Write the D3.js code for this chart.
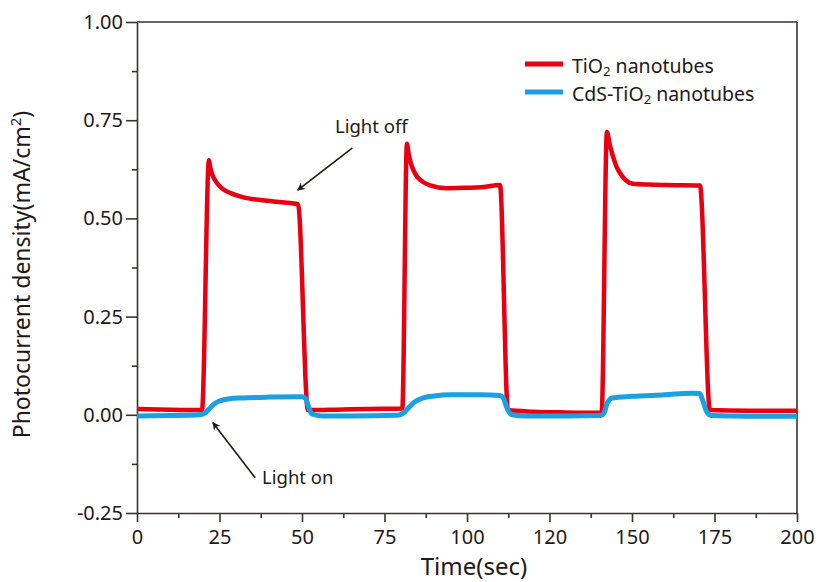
<!doctype html>
<html lang="en">
<head>
	<meta charset="UTF-8">
	<title>Photocurrent</title>
	<script src="https://d3js.org/d3.v7.min.js"></script>
	<style>
		body {
			margin: 0;
			padding: 0;
			background: #fff;
			font-family: "Noto Sans", "Open Sans", sans-serif;
		}
		.axis path,
		.axis line {
			stroke: #3a3330;
			stroke-width: 1.6px;
		}
		.axis text {
			font-family: "Noto Sans", sans-serif;
			font-size: 20px;
			fill: #231815;
		}
	</style>
</head>
<body>
	<div id="chart"></div>
	<script>
		// Data
		const xTicks = [0, 25, 50, 75, 100, 125, 150, 175, 200];
		const xTickLabels = ['0', '25', '50', '75', '100', '120', '150', '175', '200'];
		const yTicks = [-0.25, 0, 0.25, 0.5, 0.75, 1.0];
		const yTickLabels = ['-0.25', '0.00', '0.25', '0.50', '0.75', '1.00'];

		const seriesNames = ['TiO2 nanotubes', 'CdS-TiO2 nanotubes'];

		const tio2Time = [0, 10, 19.7, 21.8, 22.2, 22.8, 23.6, 24.5, 26, 28.2, 32, 38, 44, 48.8, 51.8, 60, 70, 80.4,
			81.8, 82.3, 83, 83.8, 85, 86.8, 88.8, 93.8, 100, 104, 110, 112.4, 120, 130, 140.8,
			142.4, 143.2, 144.3, 145.3, 146.4, 148, 150.3, 155, 160, 170.6, 173.6, 185, 200];
		const tio2Value = [0.015, 0.013, 0.012, 0.648, 0.63, 0.612, 0.598, 0.587, 0.575, 0.565, 0.554, 0.546, 0.541, 0.536, 0.012, 0.013, 0.015, 0.016,
			0.69, 0.665, 0.64, 0.622, 0.605, 0.592, 0.584, 0.577, 0.578, 0.579, 0.585, 0.012, 0.008, 0.006, 0.005,
			0.72, 0.69, 0.656, 0.632, 0.615, 0.598, 0.588, 0.586, 0.585, 0.584, 0.012, 0.010, 0.010];

		const cdsTime = [0, 10, 19, 20.5, 22, 23.5, 25, 28, 32, 40, 50, 51, 52, 53, 56, 65, 79,
			80.5, 82, 84, 86.7, 90, 95, 104, 110, 111, 112, 113.5, 118, 130, 140.5,
			141.5, 142.5, 144, 150, 160, 168, 170.5, 171.5, 172.5, 174, 185, 200];
		const cdsValue = [-0.003, -0.002, 0.0, 0.004, 0.016, 0.028, 0.035, 0.041, 0.043, 0.045, 0.046, 0.042, 0.02, 0.002, -0.003, -0.003, -0.001,
			0.003, 0.015, 0.032, 0.043, 0.048, 0.051, 0.051, 0.049, 0.043, 0.02, 0.0, -0.003, -0.003, -0.002,
			0.004, 0.03, 0.043, 0.047, 0.051, 0.055, 0.054, 0.035, 0.01, -0.002, -0.004, -0.004];

		const colors = ['#e60012', '#1ba1e2'];

		// Canvas
		const width = 821;
		const height = 582;
		const margin = { top: 22, right: 24, bottom: 69, left: 137 };
		const plotW = width - margin.left - margin.right;
		const plotH = height - margin.top - margin.bottom;

		const svg = d3.select('#chart')
			.append('svg')
			.attr('width', width)
			.attr('height', height);

		const g = svg.append('g')
			.attr('transform', 'translate(' + margin.left + ',' + margin.top + ')');

		// Scales
		const x = d3.scaleLinear().domain([0, 200]).range([0, plotW]);
		const y = d3.scaleLinear().domain([-0.25, 1.0]).range([plotH, 0]);

		// Minor ticks
		const xMinor = d3.range(12.5, 200, 25);
		const yMinor = d3.range(-0.125, 1.0, 0.25);

		g.append('g')
			.attr('class', 'axis')
			.attr('transform', 'translate(0,' + plotH + ')')
			.call(d3.axisBottom(x).tickValues(xMinor).tickSize(5).tickFormat(''))
			.select('.domain').remove();

		g.append('g')
			.attr('class', 'axis')
			.call(d3.axisLeft(y).tickValues(yMinor).tickSize(5).tickFormat(''))
			.select('.domain').remove();

		// Major axes
		g.append('g')
			.attr('class', 'axis')
			.attr('transform', 'translate(0,' + plotH + ')')
			.call(d3.axisBottom(x).tickValues(xTicks).tickSizeInner(9).tickSizeOuter(0).tickPadding(8)
				.tickFormat((d, i) => xTickLabels[i]));

		g.append('g')
			.attr('class', 'axis')
			.call(d3.axisLeft(y).tickValues(yTicks).tickSizeInner(11).tickSizeOuter(0).tickPadding(3)
				.tickFormat((d, i) => yTickLabels[i]));

		// Top and right frame
		g.append('line')
			.attr('x1', 0).attr('x2', plotW).attr('y1', 0).attr('y2', 0)
			.attr('stroke', '#3a3330').attr('stroke-width', 1.6);
		g.append('line')
			.attr('x1', plotW).attr('x2', plotW).attr('y1', 0).attr('y2', plotH)
			.attr('stroke', '#3a3330').attr('stroke-width', 1.6);

		// Lines
		const line = d3.line()
			.x((d) => x(d[0]))
			.y((d) => y(d[1]))
			.curve(d3.curveMonotoneX);

		const tio2Data = tio2Time.map((t, i) => [t, tio2Value[i]]);
		const cdsData = cdsTime.map((t, i) => [t, cdsValue[i]]);

		g.append('path')
			.datum(tio2Data)
			.attr('d', line)
			.attr('fill', 'none')
			.attr('stroke', colors[0])
			.attr('stroke-width', 4.5)
			.attr('stroke-linejoin', 'round');

		g.append('path')
			.datum(cdsData)
			.attr('d', line)
			.attr('fill', 'none')
			.attr('stroke', colors[1])
			.attr('stroke-width', 5)
			.attr('stroke-linejoin', 'round');

		// Arrow marker
		svg.append('defs').append('marker')
			.attr('id', 'arrow')
			.attr('viewBox', '0 0 10 10')
			.attr('refX', 9)
			.attr('refY', 5)
			.attr('markerWidth', 10)
			.attr('markerHeight', 8)
			.attr('markerUnits', 'userSpaceOnUse')
			.attr('orient', 'auto')
			.append('path')
			.attr('d', 'M0,0 L10,5 L0,10 L3,5 Z')
			.attr('fill', '#231815');

		// Annotations (in data coordinates)
		const notes = [
			{ text: 'Light off', tx: 60, ty: 0.717, from: [65.2, 0.679], to: [48.7, 0.572] },
			{ text: 'Light on', tx: 37.9, ty: -0.176, from: [35.8, -0.16], to: [23, -0.02] }
		];

		notes.forEach((n) => {
			g.append('line')
				.attr('x1', x(n.from[0])).attr('y1', y(n.from[1]))
				.attr('x2', x(n.to[0])).attr('y2', y(n.to[1]))
				.attr('stroke', '#231815')
				.attr('stroke-width', 1.6)
				.attr('marker-end', 'url(#arrow)');
			g.append('text')
				.attr('x', x(n.tx))
				.attr('y', y(n.ty))
				.attr('font-size', 18.5)
				.attr('fill', '#231815')
				.text(n.text);
		});

		// Legend
		const legend = g.append('g')
			.attr('transform', 'translate(388, 42)');

		seriesNames.forEach((name, i) => {
			const row = legend.append('g')
				.attr('transform', 'translate(0,' + (i * 28) + ')');
			row.append('line')
				.attr('x1', 0).attr('x2', 38)
				.attr('y1', 0).attr('y2', 0)
				.attr('stroke', colors[i])
				.attr('stroke-width', 5);
			const parts = name.split('2');
			const t = row.append('text')
				.attr('x', 47)
				.attr('y', 9)
				.attr('font-size', 19.5)
				.attr('fill', '#231815');
			t.append('tspan').text(parts[0]);
			t.append('tspan').attr('font-size', 13).attr('dy', 3).text('2');
			t.append('tspan').attr('dy', -3).text(parts[1]);
		});

		// Axis titles
		svg.append('text')
			.attr('x', margin.left + plotW / 2 + 7)
			.attr('y', 575)
			.attr('text-anchor', 'middle')
			.attr('font-size', 24)
			.attr('fill', '#231815')
			.text('Time(sec)');

		const yTitle = svg.append('text')
			.attr('transform', 'translate(30,' + (margin.top + plotH / 2 + 7) + ') rotate(-90)')
			.attr('text-anchor', 'middle')
			.attr('font-size', 23)
			.attr('fill', '#231815');
		yTitle.append('tspan').text('Photocurrent density(mA/cm');
		yTitle.append('tspan').attr('font-size', 15).attr('dy', -9).text('2');
		yTitle.append('tspan').attr('dy', 9).text(')');
	</script>
</body>
</html>
